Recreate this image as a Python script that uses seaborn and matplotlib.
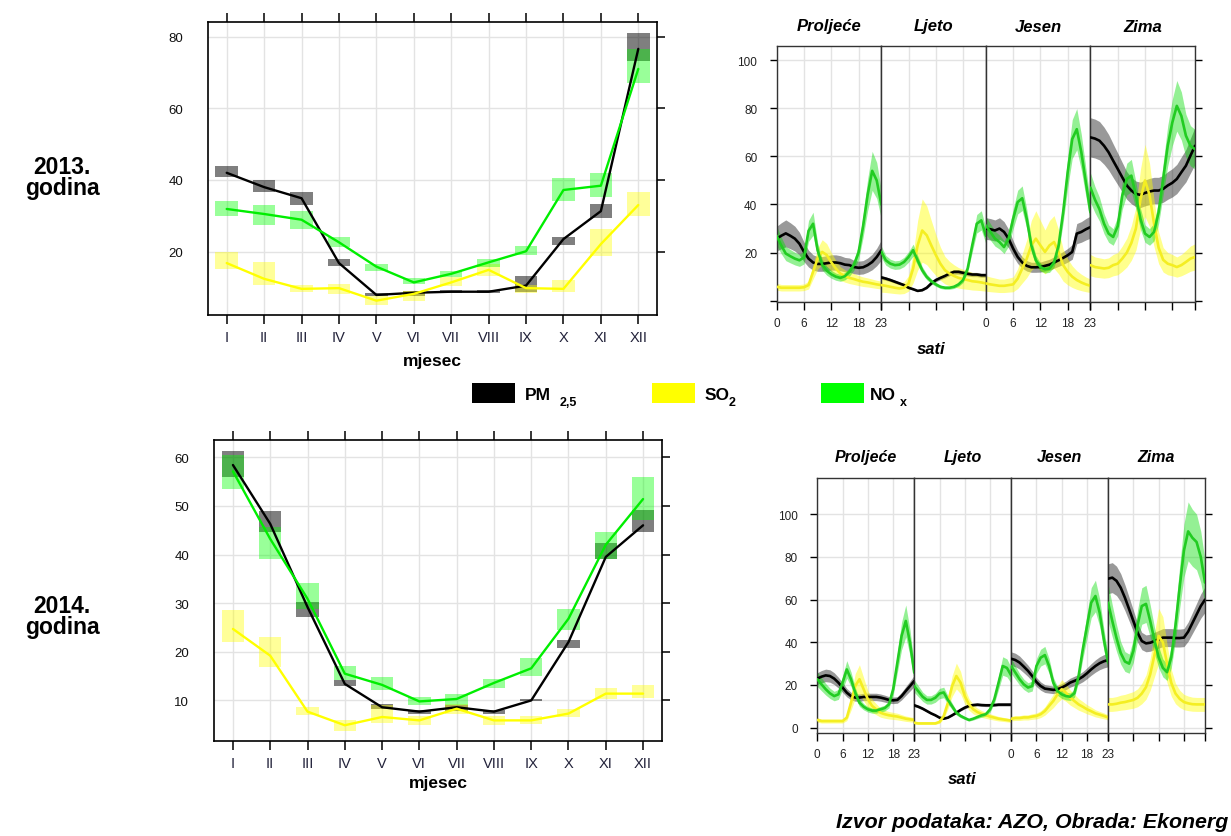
import numpy as np
import matplotlib
matplotlib.use("Agg")
import matplotlib.pyplot as plt
import seaborn as sns
from matplotlib.patches import Rectangle

sns.set_style("white")
plt.rcParams['font.family'] = ['Liberation Sans', 'DejaVu Sans']
plt.rcParams['text.color'] = 'black'
plt.rcParams['axes.labelcolor'] = 'black'
plt.rcParams['xtick.color'] = 'black'
plt.rcParams['ytick.color'] = 'black'

W, H = 1231, 837

# ---------------- monthly data ----------------
months = ['I', 'II', 'III', 'IV', 'V', 'VI', 'VII', 'VIII', 'IX', 'X', 'XI', 'XII']

pm13 = [42.0, 38.0, 34.9, 16.8, 7.9, 8.5, 8.8, 8.8, 10.5, 23.5, 31.3, 76.6]
pm13_lo = [40.7, 36.7, 33.0, 15.9, 7.5, 7.7, 8.4, 8.4, 8.6, 21.9, 29.4, 73.3]
pm13_hi = [43.8, 40.0, 36.7, 17.8, 8.4, 9.0, 9.2, 9.2, 13.3, 24.2, 33.3, 80.9]
so2_13 = [16.8, 12.4, 9.6, 9.8, 6.3, 8.2, 11.4, 14.9, 9.8, 9.6, 22.1, 33.0]
so2_13_lo = [15.2, 10.7, 8.8, 8.2, 5.1, 6.3, 10.5, 13.3, 8.5, 8.7, 18.7, 29.9]
so2_13_hi = [19.8, 17.0, 10.7, 11.0, 7.5, 9.1, 12.8, 16.6, 10.7, 12.2, 26.3, 36.7]
nox13 = [31.9, 30.5, 28.9, 22.6, 15.8, 11.4, 13.8, 17.0, 20.1, 37.2, 38.4, 71.0]
nox13_lo = [29.9, 27.4, 26.3, 21.3, 14.7, 10.9, 12.8, 15.6, 19.1, 34.2, 35.2, 67.1]
nox13_hi = [34.0, 33.1, 31.3, 24.1, 16.6, 12.6, 14.7, 17.8, 21.7, 40.5, 42.0, 76.7]

pm14 = [58.4, 46.3, 29.2, 13.4, 8.6, 7.7, 8.6, 7.7, 10.0, 22.0, 39.5, 46.0]
pm14_lo = [55.9, 44.6, 27.1, 12.9, 8.3, 7.3, 7.9, 7.3, 9.8, 20.8, 39.1, 44.6]
pm14_hi = [61.2, 49.0, 30.3, 14.1, 9.2, 8.1, 9.1, 8.1, 10.3, 22.5, 42.4, 49.2]
so2_14 = [24.7, 19.2, 7.7, 4.9, 6.6, 5.9, 8.3, 5.9, 5.9, 7.3, 11.4, 11.4]
so2_14_lo = [22.0, 16.8, 7.0, 3.8, 5.4, 4.9, 7.3, 5.0, 5.2, 6.6, 10.2, 10.5]
so2_14_hi = [28.5, 23.0, 8.6, 5.9, 9.1, 6.9, 9.3, 6.9, 6.8, 8.2, 12.5, 13.1]
nox14 = [57.1, 43.2, 30.9, 15.5, 13.2, 9.8, 10.3, 13.6, 16.6, 26.8, 42.0, 51.4]
nox14_lo = [53.5, 39.1, 28.8, 14.1, 12.1, 9.0, 9.0, 12.5, 15.1, 24.4, 39.1, 47.0]
nox14_hi = [60.5, 45.6, 34.2, 17.1, 14.8, 10.7, 11.4, 14.4, 18.7, 28.8, 44.7, 55.9]

# ---------------- hourly data (spring, summer, autumn, winter; hours 0-23) ----------------
seasons = ['Proljeće', 'Ljeto', 'Jesen', 'Zima']
hour_ticks = [0, 6, 12, 18, 23]

pm_h13 = [25.8, 27, 28, 27, 25.8, 23.7, 20.3, 17.5, 15.9, 15.3, 15.3, 15.6, 15.9, 15.9, 15.6, 15, 14.8, 14, 13.7, 13.9, 14.8, 16.1, 18.2, 21,
          9.7, 9.2, 8.6, 7.9, 7.2, 6.5, 5.4, 4.8, 4.1, 4.4, 5.4, 7.2, 8.6, 9.5, 10.3, 11.3, 12, 12, 11.6, 11.2, 10.9, 10.9, 10.6, 10.6,
          30, 29.7, 29.2, 30, 28.6, 25.8, 21.7, 18.2, 15.9, 14.5, 13.9, 13.9, 14, 14.5, 15, 15.9, 16.8, 17.8, 18.9, 20.3, 27.9, 28.6, 29.7, 30.6,
          67.9, 67.4, 66.5, 64.4, 61.7, 58.2, 54.8, 51.3, 47.9, 45.8, 44.4, 44, 44.8, 45.4, 45.8, 45.8, 46.5, 47.9, 49, 50.6, 53.4, 56.1, 60.3, 64.4]
so2_h13 = [5.8, 5.4, 5.4, 5.4, 5.4, 5.4, 5.6, 6.5, 12, 17.5, 20.3, 19, 16, 13.4, 11.3, 10.3, 9.5, 9, 8.4, 7.9, 7.6, 7.2, 6.8, 6.5,
           6.5, 6.2, 5.8, 5.4, 5.1, 5.4, 7.2, 13.4, 23, 29.2, 27.2, 23, 19, 15.4, 12.7, 11.3, 10.3, 9.5, 9, 8.6, 8.1, 7.9, 7.6, 7.2,
           7.2, 6.8, 6.5, 6.2, 6.2, 6.5, 6.8, 9.2, 13.4, 17.5, 23, 25.8, 23, 20.3, 23, 24.4, 20.3, 14.8, 12, 10, 8.6, 7.6, 6.8, 6.2,
           14.8, 14, 13.7, 13.4, 13.7, 14.8, 15.4, 17.5, 20, 24, 30, 42, 50, 44, 32, 22, 17, 15.4, 14.8, 14, 14.8, 16.1, 17.5, 18.2]
nox_h13 = [27, 23, 19.6, 18.5, 17.5, 16.8, 18, 29, 32, 21, 15, 12.5, 11, 10, 9.5, 10.2, 12, 15, 20, 31, 44, 54, 50, 40,
           20.3, 16.8, 15.4, 14.8, 15, 16.1, 18.2, 21, 16.8, 12.7, 9.9, 8.1, 6.8, 5.8, 5.4, 5.4, 5.8, 6.8, 8.6, 13.4, 23, 32, 33.4, 27,
           31.3, 28.6, 25.8, 24.4, 22.3, 25.8, 34, 41, 42.6, 34, 23, 16.8, 14, 13.1, 13.4, 15.9, 23, 36.8, 53.4, 67.2, 71.3, 61.7, 49.2, 36.8,
           47, 42, 38, 32, 27.9, 26.5, 31, 43.7, 50.6, 52, 43.7, 34, 27.9, 26.5, 28.6, 36.8, 50.6, 64.4, 74, 81, 76.8, 68.6, 64.4, 63]

pm_h14 = [23, 23.9, 24.5, 24.2, 23, 21.1, 18.8, 16.4, 14.8, 14.1, 14.1, 14.4, 14.4, 14.4, 14.4, 14.1, 13.6, 13, 12.8, 13, 14.8, 17.2, 19.5, 21.9,
          10.5, 9.8, 8.9, 7.8, 6.7, 5.8, 4.7, 4.2, 4.7, 5.8, 7, 8.3, 9.4, 10.2, 10.6, 10.8, 10.6, 10.5, 10.5, 10.6, 10.8, 10.8, 10.8, 10.8,
          32.3, 31.7, 30.5, 28.6, 26.6, 24.2, 21.4, 19.5, 18.3, 18, 17.7, 18, 18.8, 19.8, 21.1, 21.9, 22.7, 23.9, 25.5, 27.3, 28.9, 30.2, 31.1, 31.7,
          69.8, 70.3, 68.8, 65.6, 60.9, 55.5, 50, 44.5, 40.6, 39.5, 39.8, 40.6, 41.4, 42.2, 42.2, 42.2, 42, 42, 42.2, 45, 49, 53, 57, 60]
so2_h14 = [3.6, 3.1, 3.1, 3.1, 3.1, 3.1, 3.1, 4.7, 11.7, 19.5, 22.7, 18, 13.3, 10.2, 8.6, 7, 6.3, 5.8, 5.5, 5.2, 4.7, 4.2, 3.9, 3.6,
           2.3, 2, 2, 2, 2, 2, 2.7, 5.5, 11.7, 19.5, 24.2, 21.1, 14.8, 10.9, 8.6, 7.3, 6.4, 5.8, 5.2, 4.7, 4.2, 3.9, 3.6, 3.3,
           4.2, 4.5, 4.5, 4.8, 4.8, 5.2, 5.5, 6.3, 7.8, 10.2, 12.5, 15.6, 18, 16.4, 14.1, 12.5, 10.9, 9.8, 8.6, 7.7, 6.7, 6.1, 5.5, 4.8,
           10.9, 10.9, 11.2, 11.7, 12, 12.5, 13, 14, 16, 19, 25, 34, 43, 40, 30, 21, 16, 13.5, 12, 11.4, 11, 10.9, 10.9, 10.9]
nox_h14 = [22.7, 20.3, 18, 16.1, 14.8, 15.6, 21.1, 27.3, 22.7, 16.4, 11.7, 9.8, 8.6, 8, 8, 8.6, 9.2, 10.9, 18, 30.5, 43, 50, 39.8, 25.8,
           19.5, 17, 14.5, 13, 13, 14, 16, 16.5, 13, 10, 7, 5.5, 4.5, 3.6, 4.2, 5, 5.8, 6.3, 8.6, 13.3, 21, 28.9, 28, 24.5,
           28.9, 25.8, 22.7, 20.3, 18.8, 19.5, 28.9, 32.8, 34, 28.9, 21.1, 17.2, 15.6, 14.8, 14.5, 16.1, 24.2, 36.7, 47.7, 58.6, 61.7, 53.9, 41.4, 30.5,
           58.6, 50, 42, 35, 31, 30, 36, 48, 57, 58, 50, 41, 33, 28, 26, 33, 48, 66, 83, 92, 89, 87, 80, 68]

# relative half-width of the shaded confidence bands (per season)
band13 = {'pm': [0.2, 0.08, 0.15, 0.12], 'so2': [0.25, 0.45, 0.45, 0.3], 'nox': [0.15, 0.12, 0.12, 0.13]}
band14 = {'pm': [0.12, 0.06, 0.1, 0.1], 'so2': [0.3, 0.25, 0.25, 0.3], 'nox': [0.15, 0.15, 0.12, 0.15]}

# ---------------- styling ----------------
box_col = {'pm': ('#000000', 0.5), 'so2': ('#ffff00', 0.4), 'nox': ('#00ff00', 0.4)}
mline_col = {'pm': '#000000', 'so2': '#ffff00', 'nox': '#00ee00'}
band_col = {'pm': ('#000000', 0.4), 'so2': ('#ffff00', 0.45), 'nox': ('#00dd00', 0.42)}
hline_col = {'pm': '#000000', 'so2': '#f4ee22', 'nox': '#22cc22'}
GRID = '#e3e3e3'

fig = plt.figure(figsize=(W / 100, H / 100), dpi=100)


def ax_px(x0, y0, x1, y1):
    return fig.add_axes([x0 / W, 1 - y1 / H, (x1 - x0) / W, (y1 - y0) / H])


def ftext(x, y, s, **kw):
    kw.setdefault('ha', 'center')
    kw.setdefault('va', 'center')
    kw.setdefault('color', 'black')
    fig.text(x / W, 1 - y / H, s, **kw)


def monthly(ax, series, ylim, yticks):
    x = np.arange(1, 13)
    for key, mean, lo, hi in series:
        c, a = box_col[key]
        ax.bar(x, np.array(hi) - np.array(lo), bottom=lo, width=0.6, color=c, alpha=a, lw=0, zorder=2)
    for key, mean, lo, hi in series:
        sns.lineplot(x=x, y=mean, ax=ax, color=mline_col[key], linewidth=1.7, legend=False, zorder=3)
    ax.set_xlim(0.5, 12.5)
    ax.set_ylim(*ylim)
    ax.set_xticks(x)
    ax.set_xticklabels(months, fontsize=10.5, color='#22223a')
    ax.set_yticks(yticks)
    ax.set_yticklabels([str(v) for v in yticks], fontsize=9.5, color='#111111')
    ax.grid(True, color=GRID, lw=1.0, zorder=0)
    ax.set_axisbelow(True)
    ax.tick_params(axis='x', bottom=True, top=True, direction='out', length=6.5, width=1.1, pad=4)
    ax.tick_params(axis='y', left=False, right=True, direction='out', length=6, width=1.1, pad=12)
    ax.set_xlabel('')
    ax.set_ylabel('')
    for s in ax.spines.values():
        s.set_color('black')
        s.set_linewidth(1.2)


def hourly(x0, x1, y0, y1, pm, so2, nox, band, ylim, yticks, show_zero):
    hours = np.arange(24)
    data = {'pm': pm, 'so2': so2, 'nox': nox}
    pw = (x1 - x0) / 4
    axes = []
    for i in range(4):
        ax = ax_px(x0 + i * pw, y0, x0 + (i + 1) * pw, y1)
        sl = slice(24 * i, 24 * (i + 1))
        for key in ['pm', 'so2', 'nox']:
            v = np.array(data[key][sl], dtype=float)
            r = band[key][i]
            c, a = band_col[key]
            ax.fill_between(hours, v * (1 - r), v * (1 + r), color=c, alpha=a, lw=0, zorder=2)
        for key in ['pm', 'so2', 'nox']:
            sns.lineplot(x=hours, y=data[key][sl], ax=ax, color=hline_col[key], linewidth=1.9,
                         legend=False, zorder=3)
        ax.set_xlim(0, 23)
        ax.set_ylim(*ylim)
        ax.set_xticks(hour_ticks)
        ax.set_yticks(yticks)
        ax.grid(True, color=GRID, lw=1.0, zorder=0)
        ax.set_axisbelow(True)
        ax.set_xlabel('')
        ax.set_ylabel('')
        ax.tick_params(axis='x', bottom=True, top=False, direction='out', length=6, width=1,
                       labelsize=8.5, labelcolor='#222222', pad=5, labelbottom=(i in (0, 2)))
        ax.tick_params(axis='y', left=(i == 0), right=(i == 3), direction='out', length=5, width=1,
                       labelsize=8.5, labelcolor='#222222', pad=9, labelleft=(i == 0), labelright=False)
        if i == 0:
            ax.set_yticklabels([('' if (v == 0 and not show_zero) else str(v)) for v in yticks])
        for s in ax.spines.values():
            s.set_color('#333333')
            s.set_linewidth(1.0)
        axes.append(ax)
    return axes


# ---------------- 2013 ----------------
ax1 = ax_px(208, 23, 657, 316)
monthly(ax1, [('pm', pm13, pm13_lo, pm13_hi), ('so2', so2_13, so2_13_lo, so2_13_hi),
              ('nox', nox13, nox13_lo, nox13_hi)], (2.3, 84.1), [20, 40, 60, 80])
ftext(432, 362, 'mjesec', fontsize=12.5, fontweight='bold')

hourly(776.7, 1195, 46.7, 302.7, pm_h13, so2_h13, nox_h13, band13, (-0.4, 106),
       [0, 20, 40, 60, 80, 100], False)
pw = (1195 - 776.7) / 4
for i, s in enumerate(seasons):
    ftext(776.7 + (i + 0.5) * pw, 27, s, fontsize=12, fontweight='bold', fontstyle='italic')
ftext(931, 350, 'sati', fontsize=12, fontweight='bold', fontstyle='italic')

# ---------------- 2014 ----------------
ax2 = ax_px(214.3, 440.7, 661.7, 742.3)
monthly(ax2, [('pm', pm14, pm14_lo, pm14_hi), ('so2', so2_14, so2_14_lo, so2_14_hi),
              ('nox', nox14, nox14_lo, nox14_hi)], (1.6, 63.6), [10, 20, 30, 40, 50, 60])
ftext(438, 784, 'mjesec', fontsize=12.5, fontweight='bold')

hourly(817.3, 1205, 479, 734, pm_h14, so2_h14, nox_h14, band14, (-2.5, 117),
       [0, 20, 40, 60, 80, 100], True)
pw = (1205 - 817.3) / 4
for i, s in enumerate(seasons):
    ftext(817.3 + (i + 0.5) * pw, 458, s, fontsize=11.5, fontweight='bold', fontstyle='italic')
ftext(962, 780, 'sati', fontsize=12, fontweight='bold', fontstyle='italic')

# ---------------- side labels ----------------
ftext(62, 168, '2013.', fontsize=16.5, fontweight='bold')
ftext(62, 189, 'godina', fontsize=16.5, fontweight='bold')
ftext(62, 607, '2014.', fontsize=16.5, fontweight='bold')
ftext(62, 628, 'godina', fontsize=16.5, fontweight='bold')

# ---------------- legend ----------------
legend_items = [('#000000', 472, 'PM', 525, '2,5', 560),
                ('#ffff00', 652, 'SO', 705, '2', 729),
                ('#00ff00', 821, 'NO', 870, 'x', 900)]
for col, rx, main, tx, sub, sx in legend_items:
    fig.add_artist(Rectangle((rx / W, 1 - 404 / H), 43 / W, 20 / H, transform=fig.transFigure,
                             facecolor=col, edgecolor='none'))
    ftext(tx, 396, main, fontsize=12.5, fontweight='bold', ha='left')
    ftext(sx, 403, sub, fontsize=9, fontweight='bold', ha='left')

# ---------------- source ----------------
ftext(1228, 823, 'Izvor podataka: AZO, Obrada: Ekonerg', fontsize=15.4, fontweight='bold',
      fontstyle='italic', ha='right')

fig.savefig('out.png', dpi=100)
